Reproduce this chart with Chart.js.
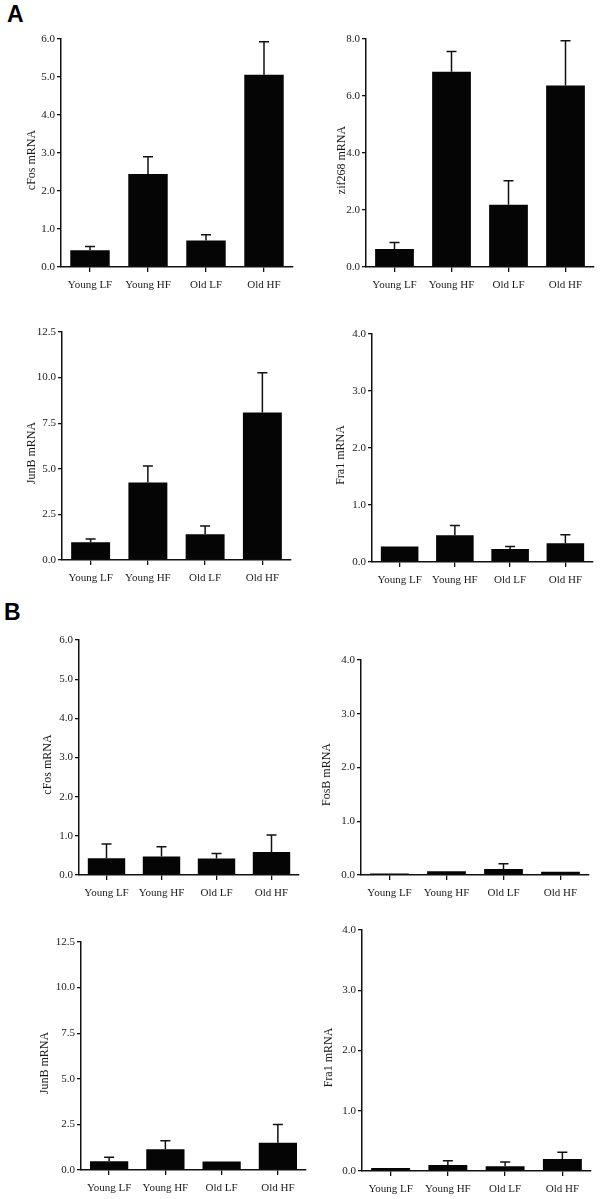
<!DOCTYPE html>
<html>
<head>
<meta charset="utf-8">
<script src="https://cdn.jsdelivr.net/npm/chart.js@4.4.1/dist/chart.umd.min.js"></script>
<style>
  body { margin: 0; background: #fff; }
  #page { position: relative; width: 604px; height: 1199px; overflow: hidden; }
  canvas { position: absolute; }
  .letter { position: absolute; font: bold 23px "Liberation Sans", Arial, sans-serif; line-height: 1; color: #000; }
</style>
</head>
<body>
<div id="page">
  <div class="letter" style="left:7px;top:3px">A</div>
  <div class="letter" style="left:4px;top:601px">B</div>
</div>
<script>
// groups on the x axis
const groups = ["Young LF", "Young HF", "Old LF", "Old HF"];

// panel A (means and SEM)
const aCfos = [0.44, 2.45, 0.70, 5.06];
const aCfosErr = [0.10, 0.45, 0.15, 0.87];
const aZif = [0.63, 6.85, 2.18, 6.37];
const aZifErr = [0.23, 0.71, 0.85, 1.57];
const aJunb = [0.97, 4.25, 1.41, 8.08];
const aJunbErr = [0.18, 0.91, 0.45, 2.19];
const aFra = [0.27, 0.47, 0.23, 0.33];
const aFraErr = [0, 0.17, 0.04, 0.15];

// panel B
const bCfos = [0.43, 0.47, 0.42, 0.59];
const bCfosErr = [0.36, 0.25, 0.13, 0.43];
const bFosb = [0.03, 0.07, 0.11, 0.06];
const bFosbErr = [0, 0, 0.10, 0];
const bJunb = [0.48, 1.14, 0.46, 1.50];
const bJunbErr = [0.22, 0.47, 0, 1.00];
const bFra = [0.05, 0.10, 0.08, 0.20];
const bFraErr = [0, 0.07, 0.07, 0.11];

// y axis ranges: [max, step]
const rangeCfos = [6, 1];
const rangeZif = [8, 2];
const rangeJunb = [12.5, 2.5];
const rangeFra = [4, 1];
const rangeFosb = [4, 1];

// where each panel sits: column left, plot box [left, top, right, bottom], title x
const panels = [
  { col: 0,   box: [61, 39, 293, 267],    tx: 32,  label: "cFos mRNA",   vals: aCfos, err: aCfosErr, range: rangeCfos },
  { col: 300, box: [366, 39, 594, 267],   tx: 342, label: "zif268 mRNA", vals: aZif,  err: aZifErr,  range: rangeZif },
  { col: 0,   box: [62, 332, 291, 560],   tx: 32,  label: "JunB mRNA",   vals: aJunb, err: aJunbErr, range: rangeJunb },
  { col: 300, box: [372, 334, 593, 562],  tx: 341, label: "Fra1 mRNA",   vals: aFra,  err: aFraErr,  range: rangeFra },
  { col: 0,   box: [79, 640, 299, 875],   tx: 48,  label: "cFos mRNA",   vals: bCfos, err: bCfosErr, range: rangeCfos },
  { col: 300, box: [361, 660, 589, 875],  tx: 327, label: "FosB mRNA",   vals: bFosb, err: bFosbErr, range: rangeFosb },
  { col: 0,   box: [81, 942, 306, 1170],  tx: 45,  label: "JunB mRNA",   vals: bJunb, err: bJunbErr, range: rangeJunb },
  { col: 300, box: [362, 930, 591, 1171], tx: 329, label: "Fra1 mRNA",   vals: bFra,  err: bFraErr,  range: rangeFra }
];

const ink = "#111";
const serif = "'Liberation Serif', 'Times New Roman', serif";

// one-sided error bars (line up from the bar top with a cap)
const errorBars = {
  id: "errorBars",
  afterDatasetsDraw(chart) {
    const ctx = chart.ctx;
    const yScale = chart.scales.y;
    const ds = chart.data.datasets[0];
    const meta = chart.getDatasetMeta(0);
    ctx.save();
    ctx.strokeStyle = ink;
    ctx.lineWidth = 1.5;
    meta.data.forEach((bar, i) => {
      const e = ds.err[i];
      if (!e) return;
      const yTop = yScale.getPixelForValue(ds.data[i] + e);
      ctx.beginPath();
      ctx.moveTo(bar.x, bar.y);
      ctx.lineTo(bar.x, yTop);
      ctx.moveTo(bar.x - 5, yTop);
      ctx.lineTo(bar.x + 5, yTop);
      ctx.stroke();
    });
    ctx.restore();
  }
};

// rotated y title, sitting a little below the middle of the axis like the original
const yTitle = {
  id: "yTitle",
  afterDraw(chart, args, opts) {
    const ctx = chart.ctx;
    const area = chart.chartArea;
    ctx.save();
    ctx.translate(opts.x, (area.top + area.bottom) / 2 + 7);
    ctx.rotate(-Math.PI / 2);
    ctx.fillStyle = "#1a1a1a";
    ctx.font = "12px " + serif;
    ctx.textAlign = "center";
    ctx.textBaseline = "middle";
    ctx.fillText(opts.text, 0, 0);
    ctx.restore();
  }
};

const page = document.getElementById("page");

panels.forEach(p => {
  const [x0, y0, x1, y1] = p.box;
  const top = y0 - 15;
  const w = x1 + 8 - p.col;
  const h = y1 + 30 - top;
  const canvas = document.createElement("canvas");
  canvas.width = w;
  canvas.height = h;
  canvas.style.left = p.col + "px";
  canvas.style.top = top + "px";
  canvas.style.width = w + "px";
  canvas.style.height = h + "px";
  page.appendChild(canvas);

  new Chart(canvas, {
    type: "bar",
    plugins: [errorBars, yTitle],
    data: {
      labels: groups,
      datasets: [{
        data: p.vals,
        err: p.err,
        backgroundColor: "#050505",
        borderWidth: 0,
        categoryPercentage: 1,
        barPercentage: 0.68
      }]
    },
    options: {
      responsive: false,
      animation: false,
      devicePixelRatio: 1,
      layout: { padding: { top: 15, right: 8, left: 0, bottom: 0 } },
      plugins: {
        legend: { display: false },
        tooltip: { enabled: false },
        yTitle: { text: p.label, x: p.tx - p.col }
      },
      scales: {
        x: {
          offset: true,
          grid: { offset: false, drawOnChartArea: false, drawTicks: true, tickLength: 5, color: ink, lineWidth: 1.3 },
          border: { display: true, color: ink, width: 1.5 },
          ticks: { color: "#1a1a1a", font: { family: serif, size: 11 }, padding: 7, maxRotation: 0, autoSkip: false },
          afterFit: s => { s.height = 30; }
        },
        y: {
          min: 0,
          max: p.range[0],
          grid: { drawOnChartArea: false, drawTicks: true, tickLength: 4, color: ink, lineWidth: 1.3 },
          border: { display: true, color: ink, width: 1.5 },
          ticks: {
            stepSize: p.range[1],
            color: "#1a1a1a",
            font: { family: serif, size: 11 },
            padding: 2,
            callback: v => v.toFixed(1)
          },
          afterFit: s => { s.width = x0 - p.col; }
        }
      }
    }
  });
});
</script>
</body>
</html>
